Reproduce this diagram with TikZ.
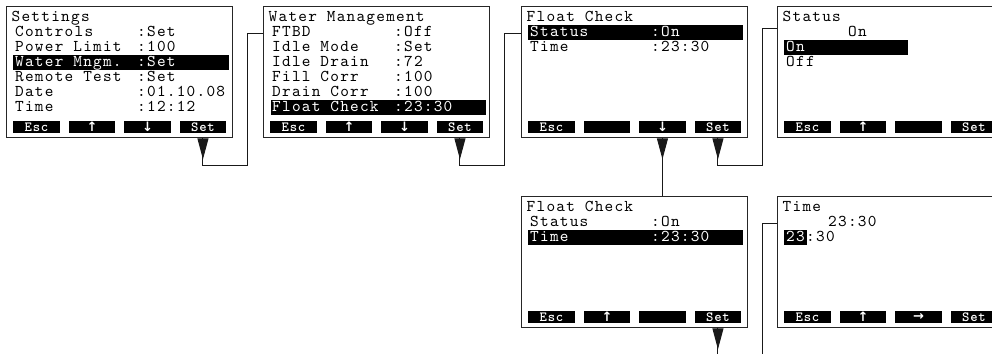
\documentclass[tikz,border=0pt]{standalone}
\usepackage{fontspec}
\usetikzlibrary{arrows.meta,calc}
\newfontfamily\lcdfam{lmmono10-regular.otf}[LetterSpace=7.5]
\newfontfamily\btnfam{lmmonolt10-bold.otf}[LetterSpace=6]
\newfontfamily\arrfam{DejaVu Sans}
\newcommand\lcdfont{\lcdfam\fontsize{16.5}{18}\selectfont}
\newcommand\btnfont{\btnfam\fontsize{14}{15}\selectfont}
\newcommand\arrsym[1]{{\arrfam\fontsize{13}{14}\selectfont\bfseries #1}}
% one text row: name, x, row index, text
\newcommand\lrow[4]{\node[lcd] (#1) at (#2,{15.5+15*#3}) {#4};}
\newcommand\lrowinv[4]{\node[lcdinv] (#1) at (#2,{15.5+15*#3}) {#4};}
% highlight bar: name, x1, x2, row index
\newcommand\hlbar[4]{\path[barfill] (#2,{3.5+15*#4}) rectangle (#3,{19+15*#4}); \coordinate (#1) at (#2,{3.5+15*#4});}
% four soft keys: prefix, labels
\newcommand\softkeys[5]{%
  \node[btn] (#1a) at (7,115) {#2};
  \node[btn] (#1b) at (62.5,115) {#3};
  \node[btn] (#1c) at (118,115) {#4};
  \node[btn] (#1d) at (173.5,115) {#5};}
\begin{document}
\begin{tikzpicture}[x=1pt,y=-1pt,
  screen/.style={draw=black!85,line width=1.3pt,fill=white,minimum width=226pt,minimum height=131pt,inner sep=0pt,anchor=north west},
  lcd/.style={anchor=base west,inner sep=0pt,font=\lcdfont,text=black},
  lcdinv/.style={lcd,text=white},
  barfill/.style={fill=black},
  btn/.style={fill=black,text=white,minimum width=46.5pt,minimum height=12pt,inner sep=0pt,anchor=north west,font=\btnfont},
  conn/.style={line width=1pt,draw=black!90},
  tipped/.style={conn,-{Triangle[width=11pt,length=21pt]}}
]
\useasboundingbox (0,0) rectangle (992,354);
\clip (0,0) rectangle (992,354);

% ---------- screen 1 ----------
\node[screen] (s1) at (6,6) {};
\begin{scope}[shift={(6,6)}]
  \hlbar{s1bar}{7}{223}{3}
  \lrow{s1t}{5.5}{0}{Settings}
  \lrow{s1l1}{9}{1}{Controls}      \lrow{s1v1}{131}{1}{:Set}
  \lrow{s1l2}{9}{2}{Power Limit}   \lrow{s1v2}{131}{2}{:100}
  \lrowinv{s1l3}{9}{3}{Water Mngm.}\lrowinv{s1v3}{131}{3}{:Set}
  \lrow{s1l4}{9}{4}{Remote Test}   \lrow{s1v4}{131}{4}{:Set}
  \lrow{s1l5}{9}{5}{Date}          \lrow{s1v5}{131}{5}{:01.10.08}
  \lrow{s1l6}{9}{6}{Time}          \lrow{s1v6}{131}{6}{:12:12}
  \softkeys{s1}{Esc}{\arrsym{↑}}{\arrsym{↓}}{Set}
\end{scope}

% ---------- screen 2 ----------
\node[screen] (s2) at (263,6) {};
\begin{scope}[shift={(263,6)}]
  \hlbar{s2bar}{8}{223}{6}
  \lrow{s2t}{5.5}{0}{Water Management}
  \lrow{s2l1}{9}{1}{FTBD}          \lrow{s2v1}{131}{1}{:Off}
  \lrow{s2l2}{9}{2}{Idle Mode}     \lrow{s2v2}{131}{2}{:Set}
  \lrow{s2l3}{9}{3}{Idle Drain}    \lrow{s2v3}{131}{3}{:72}
  \lrow{s2l4}{9}{4}{Fill Corr}     \lrow{s2v4}{131}{4}{:100}
  \lrow{s2l5}{9}{5}{Drain Corr}    \lrow{s2v5}{131}{5}{:100}
  \lrowinv{s2l6}{9}{6}{Float Check}\lrowinv{s2v6}{131}{6}{:23:30}
  \softkeys{s2}{Esc}{\arrsym{↑}}{\arrsym{↓}}{Set}
\end{scope}

% ---------- screen 3 ----------
\node[screen] (s3) at (521,6) {};
\begin{scope}[shift={(521,6)}]
  \hlbar{s3bar}{7}{222}{1}
  \lrow{s3t}{5.5}{0}{Float Check}
  \lrowinv{s3l1}{9}{1}{Status}     \lrowinv{s3v1}{130}{1}{:On}
  \lrow{s3l2}{9}{2}{Time}          \lrow{s3v2}{130}{2}{:23:30}
  \softkeys{s3}{Esc}{}{\arrsym{↓}}{Set}
\end{scope}

% ---------- screen 4 ----------
\node[screen] (s4) at (777,6) {};
\begin{scope}[shift={(777,6)}]
  \hlbar{s4bar}{7}{131}{2}
  \lrow{s4t}{5.5}{0}{Status}
  \lrow{s4c}{71}{1}{On}
  \lrowinv{s4l2}{9}{2}{On}
  \lrow{s4l3}{9}{3}{Off}
  \softkeys{s4}{Esc}{\arrsym{↑}}{}{Set}
\end{scope}

% ---------- screen 5 ----------
\node[screen] (s5) at (521,196) {};
\begin{scope}[shift={(521,196)}]
  \hlbar{s5bar}{7}{222}{2}
  \lrow{s5t}{5.5}{0}{Float Check}
  \lrow{s5l1}{9}{1}{Status}        \lrow{s5v1}{130}{1}{:On}
  \lrowinv{s5l2}{9}{2}{Time}       \lrowinv{s5v2}{130}{2}{:23:30}
  \softkeys{s5}{Esc}{\arrsym{↑}}{}{Set}
\end{scope}

% ---------- screen 6 ----------
\node[screen] (s6) at (777,196) {};
\begin{scope}[shift={(777,196)}]
  \hlbar{s6bar}{7}{30}{2}
  \lrow{s6t}{5.5}{0}{Time}
  \lrow{s6c}{51}{1}{23:30}
  \lrowinv{s6h}{9}{2}{23}
  \lrow{s6m}{29}{2}{:30}
  \softkeys{s6}{Esc}{\arrsym{↑}}{\arrsym{→}}{Set}
\end{scope}

% ---------- connectors ----------
\coordinate (c1) at (s1d |- s1.south);
\coordinate (e2) at ($(s2.north west)+(0,27)$);
\draw[tipped] (c1) -- ++(0,21);
\draw[conn] (c1) -- ++(0,27) -| ($(e2)+(-16,0)$) -- (e2);

\coordinate (c2) at (s2d |- s2.south);
\coordinate (e3) at ($(s3.north west)+(0,27)$);
\draw[tipped] (c2) -- ++(0,21);
\draw[conn] (c2) -- ++(0,27) -| ($(e3)+(-17,0)$) -- (e3);

\coordinate (c3) at (s3c |- s3.south);
\coordinate (e5) at (s3c |- s5.north);
\draw[tipped] (c3) -- ++(0,21);
\draw[conn] (c3) -- (e5);

\coordinate (c4) at (s3d |- s3.south);
\coordinate (e4) at ($(s4.north west)+(0,22)$);
\draw[tipped] (c4) -- ++(0,21);
\draw[conn] (c4) -- ++(0,27) -| ($(e4)+(-15,0)$) -- (e4);

\coordinate (c5) at (s5d |- s5.south);
\coordinate (o5) at (s5d |- 0,354);
\draw[tipped] (c5) -- ++(0,21);
\draw[conn] (c5) -- (o5);

\coordinate (e6) at ($(s6.north west)+(0,27)$);
\coordinate (o6) at ($(e6 |- 0,354)+(-15,0)$);
\draw[conn] (e6) -| (o6);
\end{tikzpicture}
\end{document}
